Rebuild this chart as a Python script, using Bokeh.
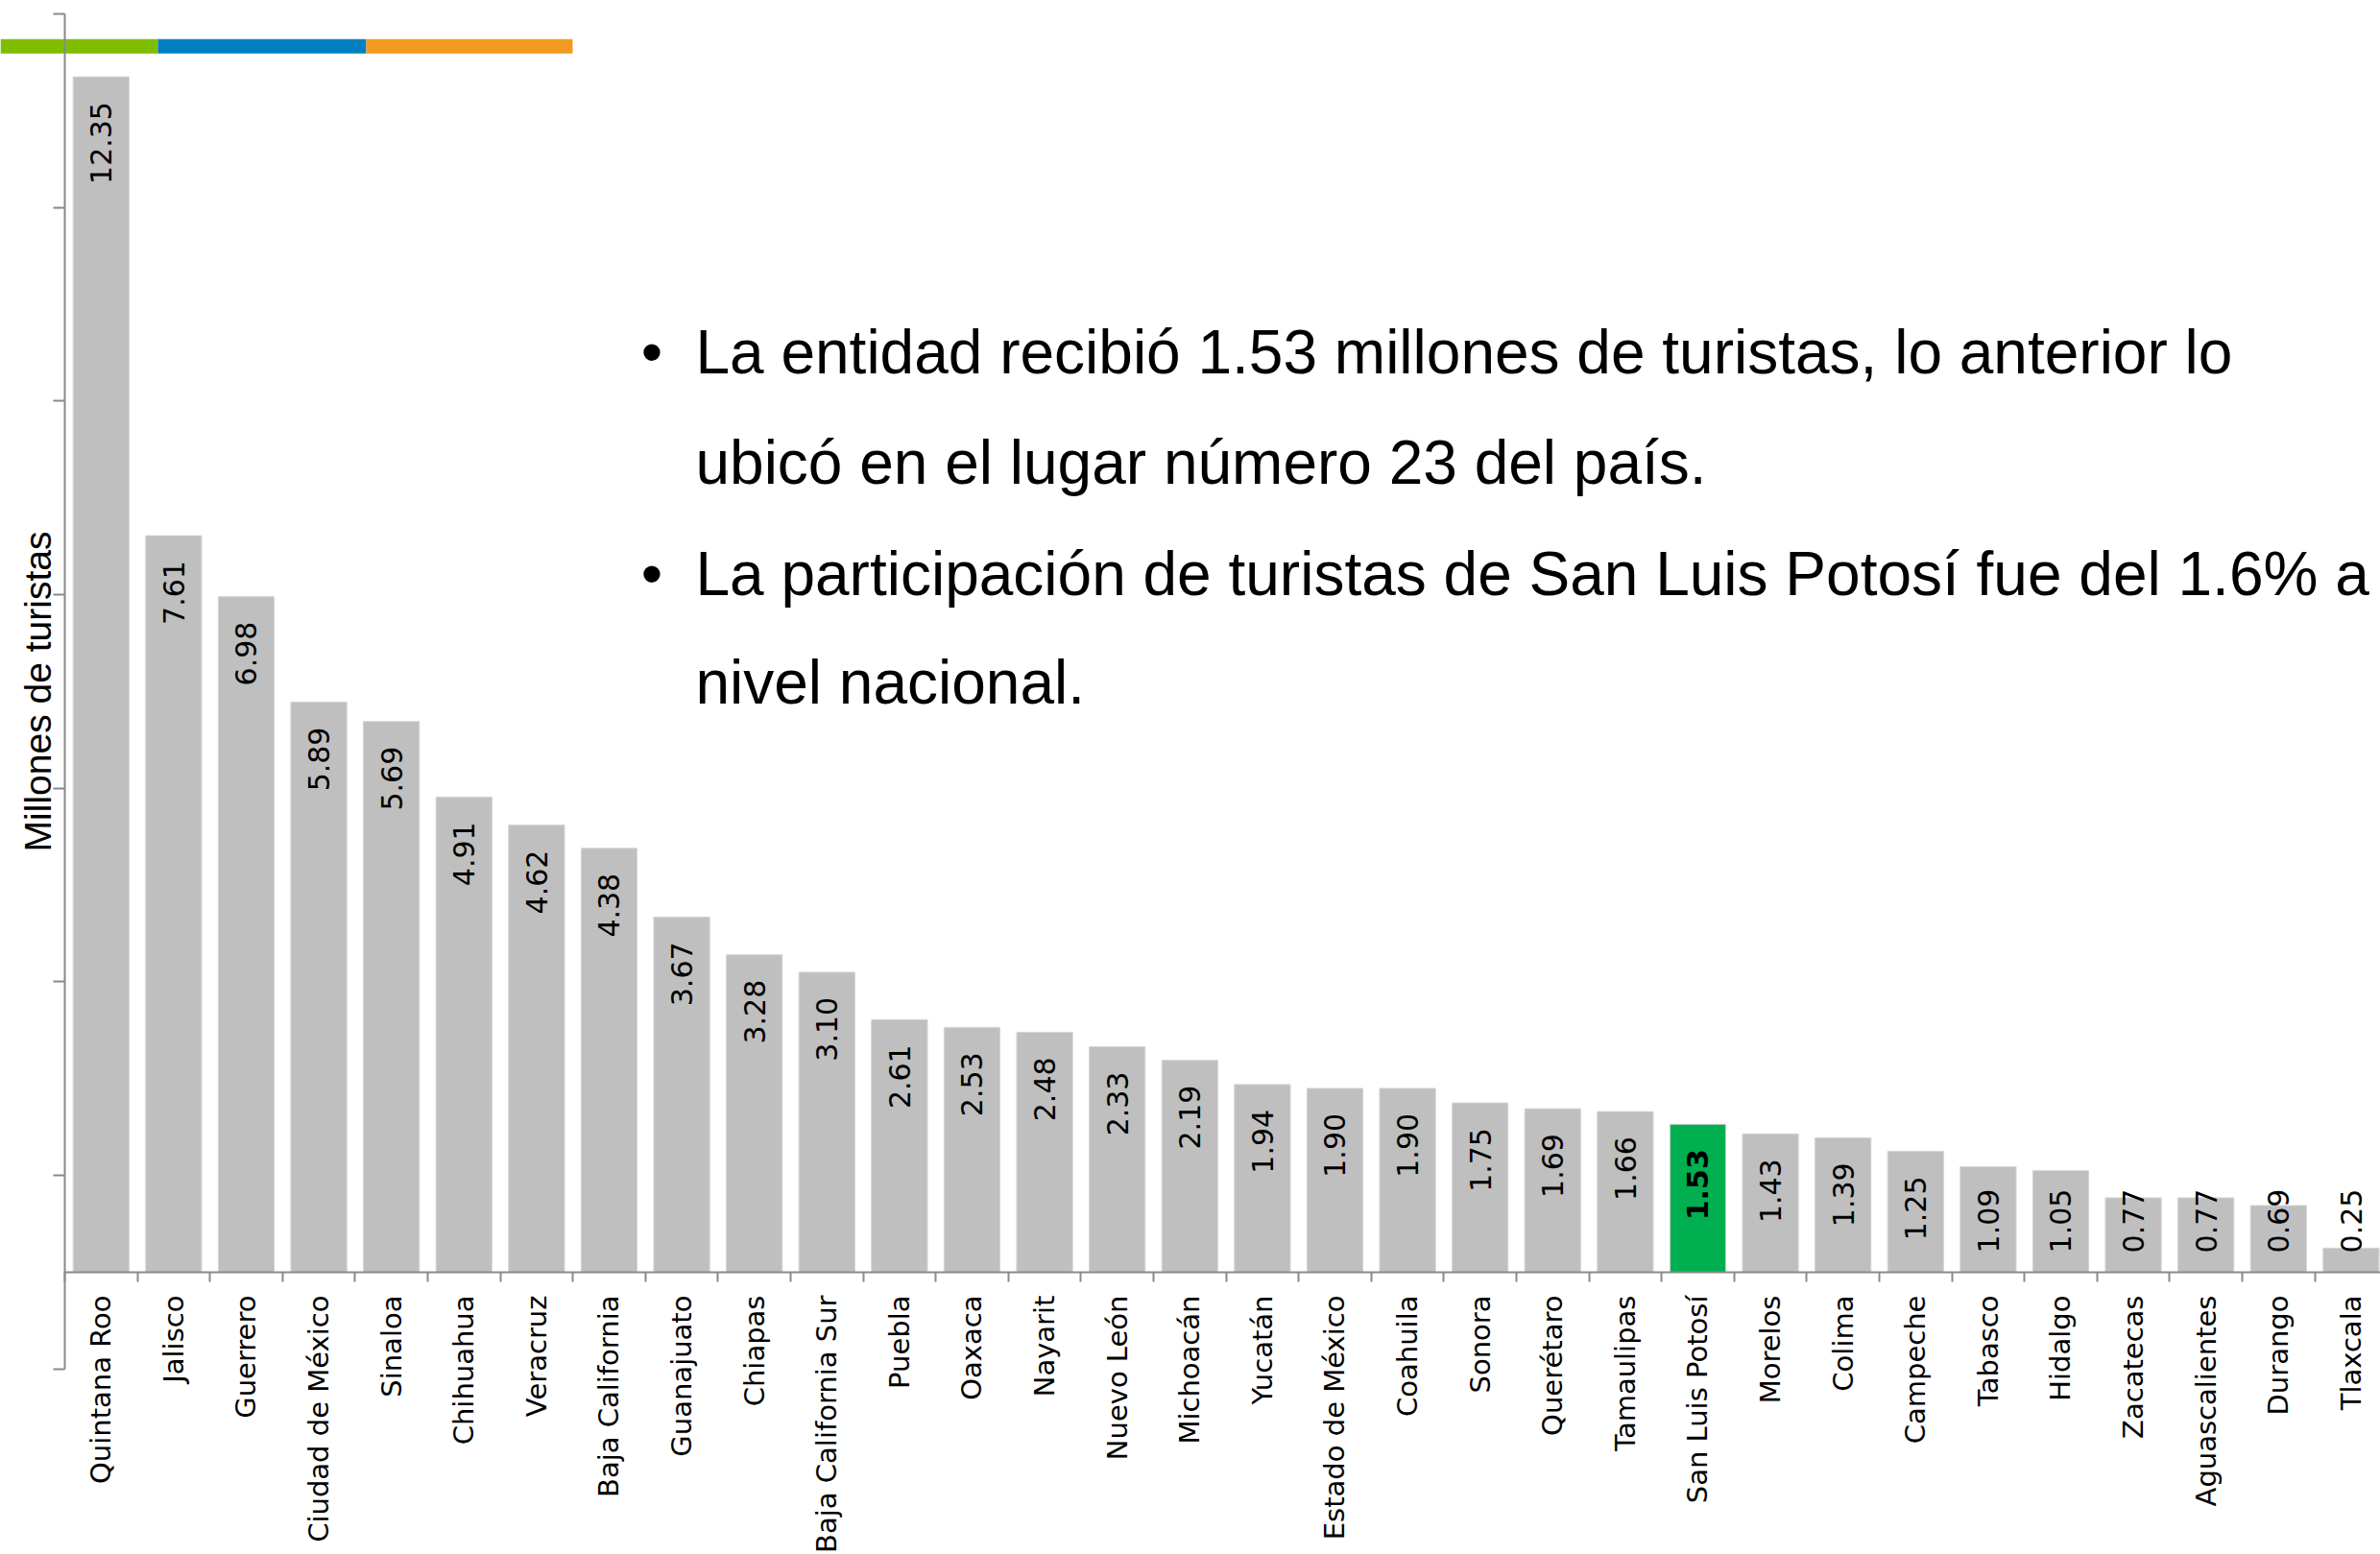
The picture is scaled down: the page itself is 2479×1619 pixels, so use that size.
import math
from bokeh.plotting import figure
from bokeh.models import ColumnDataSource, Range1d, FixedTicker, Label, BoxAnnotation
from bokeh.core.properties import value, field
from bokeh.embed import file_html
from bokeh.resources import INLINE

# ---------------- data ----------------
estados = [
    "Quintana Roo", "Jalisco", "Guerrero", "Ciudad de México", "Sinaloa",
    "Chihuahua", "Veracruz", "Baja California", "Guanajuato", "Chiapas",
    "Baja California Sur", "Puebla", "Oaxaca", "Nayarit", "Nuevo León",
    "Michoacán", "Yucatán", "Estado de México", "Coahuila", "Sonora",
    "Querétaro", "Tamaulipas", "San Luis Potosí", "Morelos", "Colima",
    "Campeche", "Tabasco", "Hidalgo", "Zacatecas", "Aguascalientes",
    "Durango", "Tlaxcala",
]
turistas = [
    12.35, 7.61, 6.98, 5.89, 5.69,
    4.91, 4.62, 4.38, 3.67, 3.28,
    3.10, 2.61, 2.53, 2.48, 2.33,
    2.19, 1.94, 1.90, 1.90, 1.75,
    1.69, 1.66, 1.53, 1.43, 1.39,
    1.25, 1.09, 1.05, 0.77, 0.77,
    0.69, 0.25,
]
destacado = "San Luis Potosí"
y_ticks = [-1, 1, 3, 5, 7, 9, 11, 13]
eje_y_titulo = "Millones de turistas"
lineas_texto = [
    ("•", "La entidad recibió 1.53 millones de turistas, lo anterior lo"),
    ("", "ubicó en el lugar número 23 del país."),
    ("•", "La participación de turistas de San Luis Potosí fue del 1.6% a"),
    ("", "nivel nacional."),
]
franja_colores = ["#80BD00", "#0080C0", "#F29A20"]

# ---------------- derived ----------------
N = len(estados)
xs = [i + 0.5 for i in range(N)]
colores = ["#00B050" if e == destacado else "#BFBFBF" for e in estados]
estilos = ["bold" if e == destacado else "normal" for e in estados]
etiquetas = [f"{v:.2f}" for v in turistas]
label_y = [max(v, 1.12) for v in turistas]

src = ColumnDataSource(dict(x=xs, top=turistas, color=colores, style=estilos,
                            label=etiquetas, ly=label_y))

W, H = 2479, 1619
p = figure(width=W, height=H,
           x_range=Range1d(-0.886, 31.905), y_range=Range1d(-2.915, 13.139),
           output_backend="svg", toolbar_location=None,
           min_border_left=0, min_border_right=0,
           min_border_top=0, min_border_bottom=0)
p.outline_line_color = None
p.xgrid.visible = False
p.ygrid.visible = False
p.background_fill_color = "white"
p.border_fill_color = "white"

# top decorative strip
franja_x = [-0.886, 1.283, 4.153, 6.997]
for i, c in enumerate(franja_colores):
    p.add_layout(BoxAnnotation(left=franja_x[i], right=franja_x[i + 1],
                               bottom=12.59, top=12.74, fill_color=c,
                               fill_alpha=1.0, line_color=None, level="underlay"))

# bars
p.vbar(x="x", top="top", bottom=0, width=0.77, source=src,
       fill_color="color", line_color="#D4D4D4", line_width=1)

# value labels
p.text(x="x", y="ly", text="label", source=src, angle=math.pi / 2,
       text_align="right", text_baseline="middle", y_offset=26,
       text_font=value("DejaVu Sans"), text_font_size="30px",
       text_font_style=field("style"), text_color="black")

# x axis at y=0
ax = p.xaxis[0]
ax.fixed_location = 0
ax.bounds = (0, 32)
ax.ticker = FixedTicker(ticks=xs, minor_ticks=list(range(N + 1)))
ax.major_label_overrides = {x: e for x, e in zip(xs, estados)}
ax.major_label_orientation = math.pi / 2
ax.major_tick_out = 0
ax.major_tick_in = 0
ax.minor_tick_out = 10
ax.minor_tick_in = 0
ax.minor_tick_line_color = "#898989"
ax.minor_tick_line_width = 2
ax.axis_line_color = "#898989"
ax.axis_line_width = 2
ax.major_label_standoff = 14
ax.major_label_text_font = "DejaVu Sans"
ax.major_label_text_font_size = "29px"
ax.major_label_text_color = "black"

# y axis at x=0
ay = p.yaxis[0]
ay.fixed_location = 0
ay.bounds = (-1, 13)
ay.ticker = FixedTicker(ticks=y_ticks, minor_ticks=[])
ay.major_tick_out = 12
ay.major_tick_in = 0
ay.major_tick_line_color = "#898989"
ay.major_tick_line_width = 2
ay.axis_line_color = "#898989"
ay.axis_line_width = 2
ay.major_label_overrides = {t: "" for t in y_ticks}
ay.major_label_standoff = 0
ay.axis_label = eje_y_titulo
ay.axis_label_text_font = "Liberation Sans"
ay.axis_label_text_font_size = "39px"
ay.axis_label_text_font_style = "normal"
ay.axis_label_text_color = "black"
ay.axis_label_standoff = -5

# bullet text
line_y = [9.50, 8.36, 7.21, 6.09]
for (b, t), yy in zip(lineas_texto, line_y):
    if b:
        p.add_layout(Label(x=7.94, y=yy, text=b, text_font="Liberation Sans",
                           text_font_size="64px", text_baseline="middle",
                           text_align="left", text_color="black"))
    p.add_layout(Label(x=8.69, y=yy, text=t, text_font="Liberation Sans",
                       text_font_size="64px", text_baseline="middle",
                       text_align="left", text_color="black"))

with open("out.html", "w", encoding="utf-8") as f:
    f.write(file_html(p, INLINE))
